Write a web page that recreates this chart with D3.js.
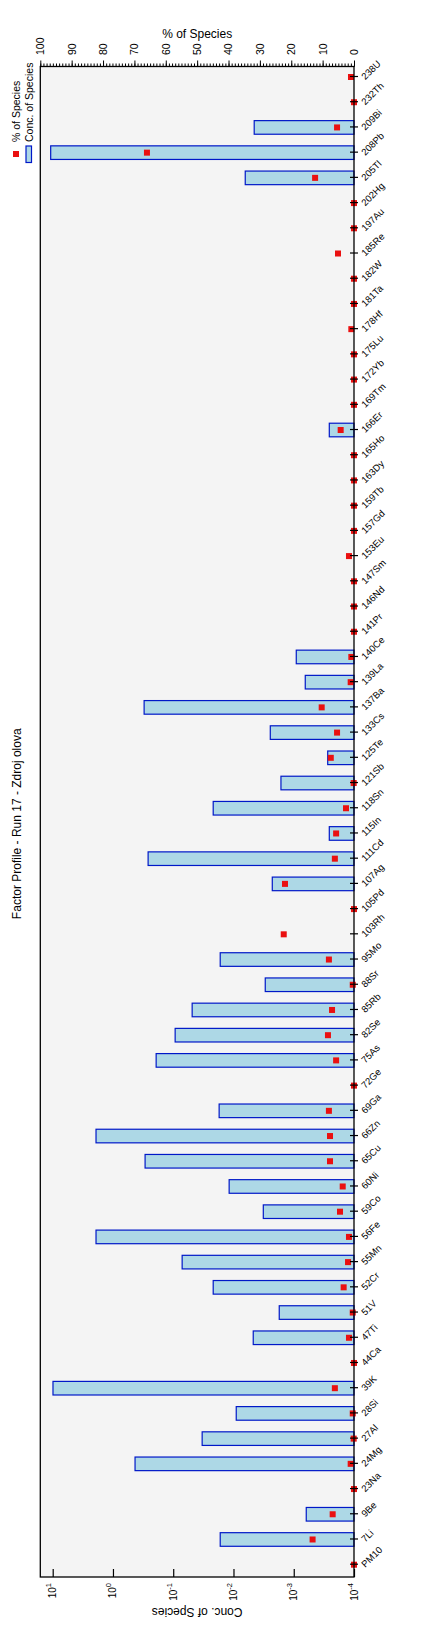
<!DOCTYPE html>
<html>
<head>
<meta charset="utf-8">
<script src="https://cdn.jsdelivr.net/npm/d3@7"></script>
<style>
  html, body { margin: 0; padding: 0; background: #ffffff; }
  svg { display: block; }
  text { font-family: "Liberation Sans", Arial, sans-serif; fill: #000; }
</style>
</head>
<body>
<script>
// ---------------- DATA ----------------
const categories = ["PM10","7Li","9Be","23Na","24Mg","27Al","28Si","39K","44Ca","47Ti","51V","52Cr","55Mn","56Fe","59Co","60Ni","65Cu","66Zn","69Ga","72Ge","75As","82Se","85Rb","88Sr","95Mo","103Rh","105Pd","107Ag","111Cd","115In","118Sn","121Sb","125Te","133Cs","137Ba","139La","140Ce","141Pr","146Nd","147Sm","153Eu","157Gd","159Tb","163Dy","165Ho","166Er","169Tm","172Yb","175Lu","178Hf","181Ta","182W","185Re","197Au","202Hg","205Tl","208Pb","209Bi","232Th","238U"];

// Conc. of Species (log axis); null = no bar drawn
const concValues = [null,0.0166,0.00062,null,0.43,0.0331,0.009,9.89,null,0.0047,0.00174,0.0217,0.0711,1.91,0.0032,0.0118,0.293,1.91,0.0173,null,0.192,0.0929,0.0485,0.00297,0.0166,null,null,0.00227,0.261,0.000257,0.0217,0.00163,0.000273,0.00245,0.304,0.000644,0.000908,null,null,null,null,null,null,null,null,0.000257,null,null,null,null,null,null,null,null,null,0.00638,10.8,0.00453,null,null];

// % of Species
const percentValues = [0,13.2,6.8,0,1.06,0.1,0.4,6.1,0,1.6,0.4,3.3,1.9,1.6,4.46,3.6,7.65,7.65,8,0,5.7,8.3,7,0.4,8,22.4,0,22,6.1,5.7,2.55,0.1,7.4,5.4,10.3,1.06,0.85,0,0,0,1.6,0,0,0,0,4.25,0,0,0,0.85,0,0,5.1,0,0,12.4,66,5.4,0,0.96];

const logTickValues = [1e-4,1e-3,1e-2,1e-1,1e0,1e1];
const logTickExponents = ["-4","-3","-2","-1","0","1"];
const percentTickValues = [0,10,20,30,40,50,60,70,80,90,100];

const titleText = "Factor Profile - Run 17 - Zdroj olova";
const leftAxisTitle = "Conc. of Species";
const rightAxisTitle = "% of Species";
const legendLabels = ["% of Species", "Conc. of Species"];

// ---------------- LAYOUT (original, unrotated frame) ----------------
const W = 434, H = 1643;         // page size
const plot = { x0: 66, x1: 1576.5, y0: 40.3, y1: 354 };

const svg = d3.select("body").append("svg")
  .attr("width", W).attr("height", H);

svg.append("rect").attr("width", W).attr("height", H).attr("fill", "#ffffff");

// whole chart drawn in landscape orientation and rotated 90deg counter-clockwise
const g = svg.append("g").attr("transform", `translate(0,${H}) rotate(-90)`);

// scales
const x = d3.scalePoint().domain(categories).range([78.3, 1566]);
const yLog = d3.scaleLog().domain([1e-4, 1e1]).range([354, 52.7]);
const yPct = d3.scaleLinear().domain([0, 100]).range([plot.y1, plot.y0]);

// plot background
g.append("rect")
  .attr("x", plot.x0).attr("y", plot.y0)
  .attr("width", plot.x1 - plot.x0).attr("height", plot.y1 - plot.y0)
  .attr("fill", "#f4f4f4");

// bars
const barW = 13.6;
const rows = categories.map((c, i) => ({ cat: c, conc: concValues[i], pct: percentValues[i] }));

g.append("g").selectAll("rect")
  .data(rows.filter(d => d.conc != null && d.conc > 1e-4))
  .join("rect")
  .attr("x", d => x(d.cat) - barW / 2)
  .attr("y", d => yLog(d.conc))
  .attr("width", barW)
  .attr("height", d => yLog(1e-4) - yLog(d.conc))
  .attr("fill", "#add8e6")
  .attr("stroke", "#0018c8")
  .attr("stroke-width", 1.2);

// markers (% of Species)
const mk = 6;
g.append("g").selectAll("rect")
  .data(rows)
  .join("rect")
  .attr("x", d => x(d.cat) - mk / 2)
  .attr("y", d => yPct(d.pct) - mk / 2)
  .attr("width", mk).attr("height", mk)
  .attr("fill", "#ea1010");

// ---- left (log) axis: inner ticks ----
const leftAxis = g.append("g").attr("transform", `translate(${plot.x0},0)`)
  .call(d3.axisLeft(yLog).tickValues(logTickValues).tickSize(-8).tickFormat(""));
leftAxis.select(".domain").remove();
leftAxis.selectAll("line").attr("stroke", "#000").attr("stroke-width", 1.2);

const logLabels = g.append("g").selectAll("text")
  .data(logTickValues)
  .join("text")
  .attr("x", plot.x0 - 6)
  .attr("y", d => yLog(d))
  .attr("dy", "0.35em")
  .attr("text-anchor", "end")
  .style("font-size", "10px");
logLabels.each(function(d, i) {
  const t = d3.select(this);
  t.append("tspan").text("10");
  t.append("tspan").attr("dy", "-5").style("font-size", "7.5px").text(logTickExponents[i]);
});

// ---- right (%) axis ----
const rightMinor = g.append("g").attr("transform", `translate(${plot.x1},0)`)
  .call(d3.axisRight(yPct).tickValues(d3.range(0, 101, 1)).tickSize(3).tickFormat(""));
rightMinor.select(".domain").remove();
rightMinor.selectAll("line").attr("stroke", "#000");

const rightMajor = g.append("g").attr("transform", `translate(${plot.x1},0)`)
  .call(d3.axisRight(yPct).tickValues(percentTickValues).tickSize(6).tickPadding(5.5).tickFormat(d3.format("d")));
rightMajor.select(".domain").remove();
rightMajor.selectAll("line").attr("stroke", "#000");
rightMajor.selectAll("text").style("font-size", "10.5px")
  .style("font-family", "\"Liberation Sans\", Arial, sans-serif").attr("fill", "#000");

// ---- bottom (category) axis: ticks crossing the axis ----
const bottomAxis = g.append("g").attr("transform", `translate(0,${plot.y1})`)
  .call(d3.axisBottom(x).tickSize(4).tickFormat(""));
bottomAxis.select(".domain").remove();
bottomAxis.selectAll("line").attr("y1", -4).attr("y2", 4).attr("stroke", "#000").attr("stroke-width", 1.2);

// plot frame
g.append("rect")
  .attr("x", plot.x0).attr("y", plot.y0)
  .attr("width", plot.x1 - plot.x0).attr("height", plot.y1 - plot.y0)
  .attr("fill", "none").attr("stroke", "#000").attr("stroke-width", 1.3);

// ---- titles ----
g.append("text")
  .attr("x", (plot.x0 + plot.x1) / 2 - 2).attr("y", 17)
  .attr("dy", "0.35em").attr("text-anchor", "middle")
  .style("font-size", "12px").text(titleText);

g.append("text")
  .attr("transform", `translate(31,${(plot.y0 + plot.y1) / 2}) rotate(-90)`)
  .attr("dy", "0.35em").attr("text-anchor", "middle")
  .style("font-size", "12px").text(leftAxisTitle);

g.append("text")
  .attr("transform", `translate(1609,${(plot.y0 + plot.y1) / 2}) rotate(90)`)
  .attr("dy", "0.35em").attr("text-anchor", "middle")
  .style("font-size", "12px").text(rightAxisTitle);

// ---- legend ----
const leg = g.append("g");
leg.append("rect")
  .attr("x", 1486).attr("y", 13).attr("width", 6).attr("height", 6)
  .attr("fill", "#ea1010");
leg.append("rect")
  .attr("x", 1480.5).attr("y", 26).attr("width", 16.5).attr("height", 5.5)
  .attr("fill", "#add8e6").attr("stroke", "#0018c8").attr("stroke-width", 1.2);
leg.selectAll("text.leg")
  .data(legendLabels)
  .join("text")
  .attr("class", "leg")
  .attr("x", 1501)
  .attr("y", (d, i) => i === 0 ? 16.5 : 29)
  .attr("dy", "0.35em")
  .style("font-size", "10.5px")
  .text(d => d);

// ---- category labels (page frame, slanted 45deg upward) ----
svg.append("g").selectAll("text")
  .data(categories)
  .join("text")
  .attr("transform", d => `translate(${plot.y1 + 9},${H - x(d) + 1}) rotate(-45)`)
  .attr("dy", "0.35em")
  .attr("text-anchor", "start")
  .style("font-size", "9.5px")
  .text(d => d);
</script>
</body>
</html>
